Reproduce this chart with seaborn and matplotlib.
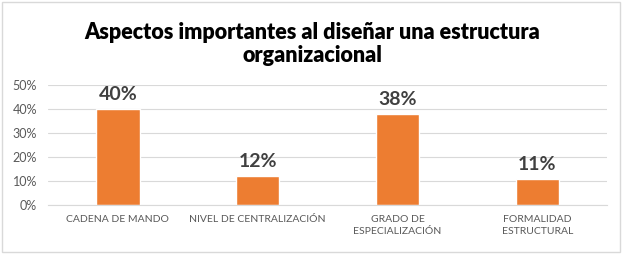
import matplotlib
matplotlib.use('Agg')
import matplotlib.pyplot as plt
import seaborn as sns
import pandas as pd
from matplotlib.patches import Rectangle
from matplotlib.ticker import PercentFormatter

# Datos del gráfico
categorias = ['CADENA DE MANDO', 'NIVEL DE CENTRALIZACIÓN',
              'GRADO DE\nESPECIALIZACIÓN', 'FORMALIDAD\nESTRUCTURAL']
valores = [0.40, 0.12, 0.38, 0.11]
etiquetas = ['40%', '12%', '38%', '11%']

df = pd.DataFrame({'aspecto': categorias, 'valor': valores})

sns.set_style('white')
plt.rcParams['font.family'] = ['Lato', 'DejaVu Sans']

fig = plt.figure(figsize=(6.24, 2.54), dpi=100)
ax = fig.add_axes([0.077, 0.193, 0.896, 0.472])

sns.barplot(data=df, x='aspecto', y='valor', color='#ED7D31', width=0.31,
            saturation=1, ax=ax)

ax.set_ylim(0, 0.5)
ax.set_yticks([0, 0.1, 0.2, 0.3, 0.4, 0.5])
ax.yaxis.set_major_formatter(PercentFormatter(1.0, decimals=0))
ax.grid(axis='y', color='#D9D9D9', linewidth=0.8)
ax.set_axisbelow(True)
for s in ['top', 'right', 'left']:
    ax.spines[s].set_visible(False)
ax.spines['bottom'].set_color('#D9D9D9')
ax.tick_params(axis='both', length=0, colors='#595959')
ax.tick_params(axis='x', pad=7, labelsize=7.5)
ax.tick_params(axis='y', pad=8, labelsize=9)
for lbl in ax.get_xticklabels():
    lbl.set_linespacing(1.5)
ax.set_xlabel('')
ax.set_ylabel('')

# etiquetas de datos
for i, (v, t) in enumerate(zip(valores, etiquetas)):
    ax.text(i, v + 0.025, t, ha='center', va='bottom', fontsize=14,
            fontweight='bold', color='#404040')

fig.suptitle('Aspectos importantes al diseñar una estructura\norganizacional',
             y=0.915, fontsize=15.5, fontweight='heavy', color='black',
             linespacing=1.15)

# borde del gráfico
fig.patches.append(Rectangle((0.004, 0.008), 0.99, 0.984, transform=fig.transFigure,
                             fill=False, edgecolor='#D9D9D9', linewidth=1))

fig.savefig('out.png', dpi=100)
